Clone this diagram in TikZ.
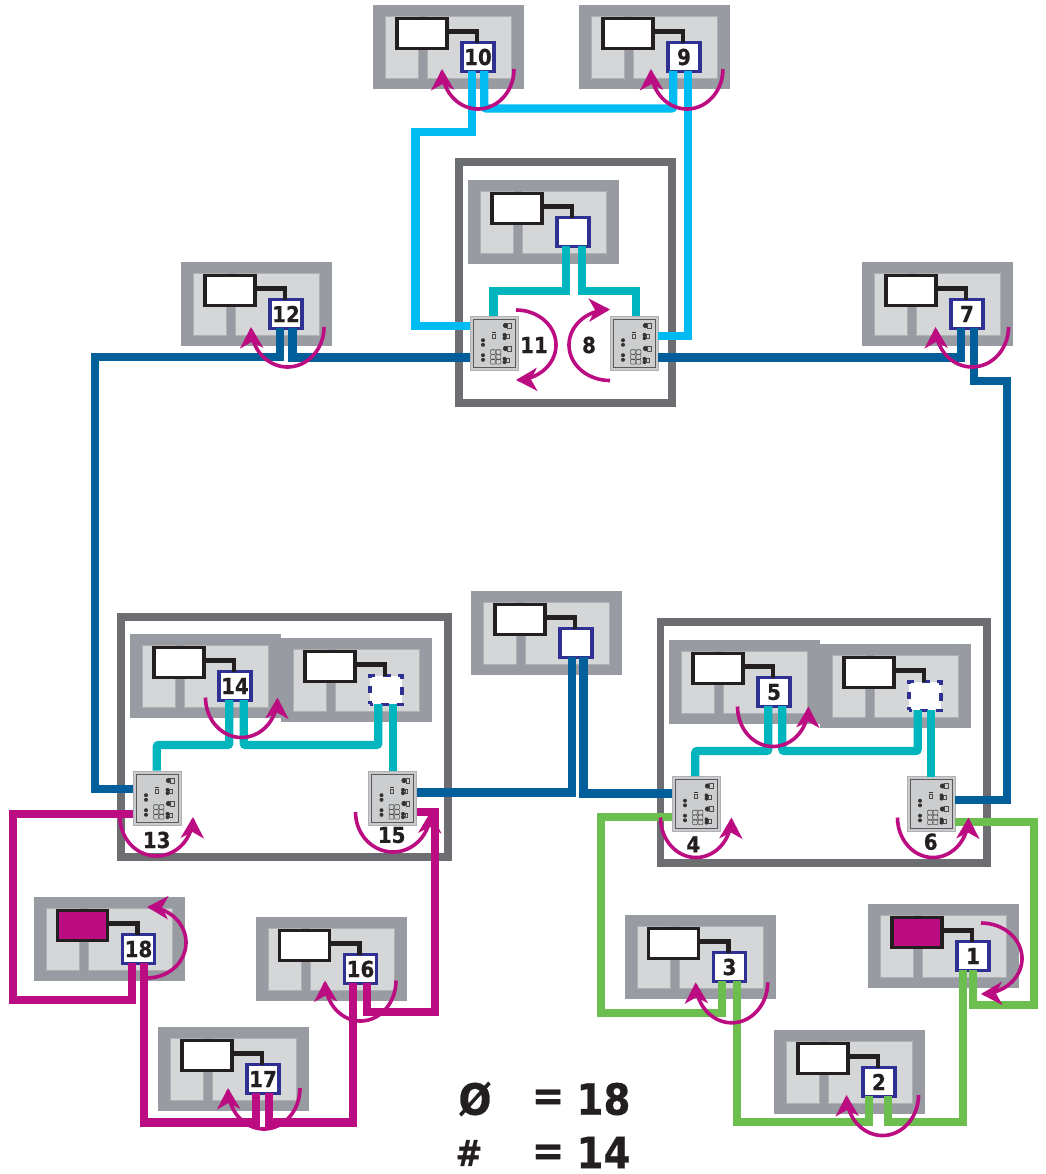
\documentclass[tikz,border=0pt]{standalone}
\usepackage{fontspec}
\usetikzlibrary{arrows.meta}
\setmainfont{DejaVu Sans}
\newfontfamily\labf[FakeStretch=0.9,FakeBold=0.6]{DejaVu Sans}
\definecolor{stOuter}{HTML}{989BA2}
\definecolor{stPane}{HTML}{D5D6D8}
\definecolor{paneEdge}{HTML}{AEB0B4}
\definecolor{frameGray}{HTML}{6D6E71}
\definecolor{navyPort}{HTML}{2E3192}
\definecolor{inkBlack}{HTML}{231F20}
\definecolor{mag}{HTML}{BC0C82}
\definecolor{ltblue}{HTML}{00BCF2}
\definecolor{tealw}{HTML}{00B5BE}
\definecolor{dkblue}{HTML}{005F9A}
\definecolor{grn}{HTML}{6CBE4F}
\definecolor{swFill}{HTML}{C9CBCD}
\tikzset{
  stbox/.style={rectangle,fill=stOuter,draw=none,minimum width=151pt,minimum height=84pt,inner sep=0pt,outer sep=0pt,anchor=north west},
  dispbox/.style={rectangle,draw=inkBlack,line width=3.5pt,minimum width=49.7pt,minimum height=29.7pt,inner sep=0pt,outer sep=0pt},
  portbox/.style={rectangle,fill=white,draw=navyPort,line width=3.6pt,minimum width=32.2pt,minimum height=28.8pt,inner sep=0pt,outer sep=0pt,font=\labf\bfseries\fontsize{22}{22}\selectfont,text=inkBlack},
  portdash/.style={portbox,dash pattern=on 7.5pt off 7.8pt,dash phase=4pt},
  dlink/.style={draw=inkBlack,line width=4.5pt},
  swbox/.style={rectangle,fill=swFill,draw=paneEdge,line width=1pt,minimum width=48pt,minimum height=54.5pt,inner sep=0pt,outer sep=0pt,anchor=north west},
  frameline/.style={draw=frameGray,line width=7.8pt},
  wireL/.style={draw=ltblue,line width=8.3pt},
  wireT/.style={draw=tealw,line width=8.3pt},
  wireD/.style={draw=dkblue,line width=8.3pt},
  wireM/.style={draw=mag,line width=8.3pt},
  wireG/.style={draw=grn,line width=8.3pt},
  marcline/.style={draw=mag,line width=3.6pt,-{Stealth[length=21pt,width=23pt,inset=6pt]}},
  numlab/.style={font=\labf\bfseries\fontsize{22}{22}\selectfont,text=inkBlack,inner sep=0pt},
  biglab/.style={font=\labf\bfseries\fontsize{43}{43}\selectfont,text=inkBlack,inner sep=0pt}
}
% x, y, name, label, left stub x, right stub x, display fill, port style
\newcommand\station[8]{%
  \node[stbox] (s#3) at (#1,#2) {};
  \fill[stPane] (#1+12.5,#2+11) rectangle (#1+45.5,#2+73);
  \fill[stPane] (#1+54.5,#2+11) rectangle (#1+138.5,#2+73);
  \draw[paneEdge,line width=0.6pt] (#1+12.5,#2+11) rectangle (#1+45.5,#2+73);
  \draw[paneEdge,line width=0.6pt] (#1+54.5,#2+11) rectangle (#1+138.5,#2+73);
  \node[dispbox,fill=#7] (d#3) at (#1+49,#2+28.5) {};
  \node[#8] (p#3) at (#1+105,#2+52) {#4};
  \draw[dlink] ([yshift=2pt]d#3.east) -| ([xshift=-1pt]p#3.north);
  \coordinate (p#3l) at (#5,#2+66);
  \coordinate (p#3r) at (#6,#2+66);
}
% x, y, name
\newcommand\switchbox[3]{%
  \node[swbox] (sw#3) at (#1+0.5,#2+0.5) {};
  \begin{scope}[shift={(#1,#2)}]
    \draw[fill=stPane!90!gray,draw=black!65,line width=0.7pt] (3.5,3.5) rectangle (45.5,52);
    \foreach \py in {27,42}{
      \fill[black!80] (13.5,\py-2.3) circle (2);
      \fill[black!80] (13.5,\py+2.3) circle (2);
    }
    \foreach \py in {10,33}{
      \fill[black!80] (36,\py) circle (2.6);
      \draw[black!70,line width=0.6pt] (38,\py-2.5) rectangle (41.5,\py+2.5);
    }
    \foreach \py in {21,45}{
      \fill[black!80] (35,\py-1.6) circle (2);
      \fill[black!80] (35,\py+1.6) circle (2);
      \draw[black!70,line width=0.6pt] (37,\py-2) rectangle (39.5,\py+2);
    }
    \fill[black!80] (22,16) rectangle (26,17.4);
    \draw[black!70,line width=0.6pt] (22.4,18.4) rectangle (25.6,22.6);
    \foreach \qx in {23.5,29}{
      \foreach \qy in {36.5,41.4,46.3}{
        \draw[black!70,line width=0.6pt,rounded corners=0.8pt] (\qx-2.4,\qy-2.3) rectangle (\qx+2.4,\qy+2.3);
      }
    }
  \end{scope}
}
% cx, cy, rx, ry, start, end
\newcommand\marc[6]{%
  \draw[marcline] plot[domain=#5:#6,samples=48,variable=\t] ({#1+#3*cos(\t)},{#2+#4*sin(\t)});
}
\begin{document}
\begin{tikzpicture}[x=1pt,y=-1pt]
\useasboundingbox (0,0) rectangle (1045,1174);
% frames
\draw[frameline] (459,162) rectangle (671.7,402.7);
\draw[frameline] (121,616.7) rectangle (448,857);
\draw[frameline] (660.5,622) rectangle (987.3,863);
% stations
\station{373}{5}{10}{10}{471.7}{484.3}{white}{portbox}
\station{579}{5}{9}{9}{673.3}{688.3}{white}{portbox}
\station{468}{180}{a}{}{566.3}{581.7}{white}{portbox}
\station{181}{262}{12}{12}{280}{292.5}{white}{portbox}
\station{862}{262}{7}{7}{961}{974}{white}{portbox}
\station{130}{634}{14}{14}{229.3}{243.7}{white}{portbox}
\station{281}{638}{b}{}{378.3}{392.7}{white}{portdash}
\station{471}{591}{c}{}{571.7}{583.5}{white}{portbox}
\station{669}{640}{5}{5}{768.3}{782.3}{white}{portbox}
\station{820}{644}{e}{}{917.7}{931.3}{white}{portdash}
\station{33.5}{897}{18}{18}{131.7}{144.3}{mag}{portbox}
\station{255.5}{917}{16}{16}{353.3}{366.7}{white}{portbox}
\station{158}{1027}{17}{17}{256}{269.3}{white}{portbox}
\station{624.5}{915}{3}{3}{722.3}{736.7}{white}{portbox}
\station{868}{904}{1}{1}{963.3}{973.3}{mag}{portbox}
\station{774}{1030}{2}{2}{869.3}{887.7}{white}{portbox}
% switches
\switchbox{469.5}{315.5}{11}
\switchbox{609.5}{315.5}{8}
\switchbox{132.5}{770.5}{13}
\switchbox{368}{770.5}{15}
\switchbox{671.5}{776}{4}
\switchbox{906.5}{776}{6}
% light blue ring
\draw[wireL] (p10l) |- (415.5,132) |- (sw11.west |- 0,326);
\draw[wireL,rounded corners=2pt] (p10r) |- (p9l |- 0,108.5) -- (p9l);
\draw[wireL] (p9r) |- (sw8.east |- 0,336);
% top teal
\draw[wireT] (pal) |- (493.5,291) -- (493.5 ,315.5);
\draw[wireT] (par) |- (635.7,291) -- (635.7,315.5);
% dark blue ring
\draw[wireD] (sw13.west |- 0,789) -| (95,357) -| (p12l);
\draw[wireD] (p12r) |- (sw11.west |- 0,357.5);
\draw[wireD] (sw8.east |- 0,357.5) -| (p7l);
\draw[wireD] (p7r) |- (1006.7,381) |- (sw6.east |- 0,800);
\draw[wireD] (pcl) |- (sw15.east |- 0,792.5);
\draw[wireD] (pcr) |- (sw4.west |- 0,793.5);
% lower teal
\draw[wireT,rounded corners=2pt] (p14l) |- (156.7,745) -- (156.7,770.5);
\draw[wireT,rounded corners=2pt] (p14r) |- (pbl |- 0,745) -- (pbl);
\draw[wireT] (pbr) -- (pbr |- sw15.north);
\draw[wireT,rounded corners=2pt] (p5l) |- (695.3,751) -- (695.3,776);
\draw[wireT,rounded corners=2pt] (p5r) |- (pel |- 0,751) -- (pel);
\draw[wireT] (per) -- (per |- sw6.north);
% magenta ring
\draw[wireM] (sw13.west |- 0,814.3) -| (13.3,1000) -| (p18l);
\draw[wireM] (p18r) |- (p17l |- 0,1122.5) -- (p17l);
\draw[wireM] (p17r) |- (p16l |- 0,1122.5) -- (p16l);
\draw[wireM] (p16r) |- (435.3,1011.7) |- (sw15.east |- 0,812);
% green ring
\draw[wireG] (sw4.west |- 0,817.3) -| (600.7,1013.3) -| (p3l);
\draw[wireG] (p3r) |- (p2l |- 0,1122.3) -- (p2l);
\draw[wireG] (p2r) |- (p1l |- 0,1122.3) -- (p1l);
\draw[wireG] (p1r) |- (1034.3,1005) |- (sw6.east |- 0,822.3);
% arcs
\marc{478}{69}{36}{40}{0}{180}
\marc{686.9}{69}{36}{40}{0}{180}
\marc{287.5}{327}{36.5}{40}{0}{180}
\marc{972}{327}{36.5}{40}{0}{180}
\marc{731.7}{982.3}{36}{40.5}{0}{180}
\marc{882.5}{1095}{36}{40.5}{0}{180}
\marc{360.5}{980.5}{35.5}{40.5}{0}{180}
\marc{264}{1088}{36}{41}{0}{180}
\marc{241.5}{697.5}{36}{40}{180}{0}
\marc{773}{706.5}{35.5}{40}{180}{0}
\marc{156.5}{817}{36.5}{39}{180}{0}
\marc{393}{812}{37.5}{40}{180}{0}
\marc{696}{817.5}{35.5}{40}{180}{0}
\marc{933}{817.5}{35.5}{40}{180}{0}
\marc{516}{345}{40}{35}{-90}{90}
\marc{610}{345}{41}{35.5}{90}{270}
\marc{147}{942.5}{39}{35.5}{90}{-90}
\marc{981}{958.5}{41}{35.5}{-90}{90}
% outer labels
\node[numlab] (l11) at (534,345) {11};
\node[numlab] (l8) at (589,345) {8};
\node[numlab] (l13) at (156.7,840) {13};
\node[numlab] (l15) at (391.7,835) {15};
\node[numlab] (l4) at (693.3,844.3) {4};
\node[numlab] (l6) at (930.7,841.7) {6};
% legend
\node[biglab] (t1) at (475,1099) {Ø};
\node[biglab] (t2) at (548,1100) {=};
\node[biglab] (t3) at (603.5,1099) {18};
\node[biglab] (t4) at (469,1153) {\fontsize{36}{36}\selectfont\#};
\node[biglab] (t5) at (548,1155) {=};
\node[biglab] (t6) at (603.5,1152.5) {14};
\end{tikzpicture}
\end{document}
